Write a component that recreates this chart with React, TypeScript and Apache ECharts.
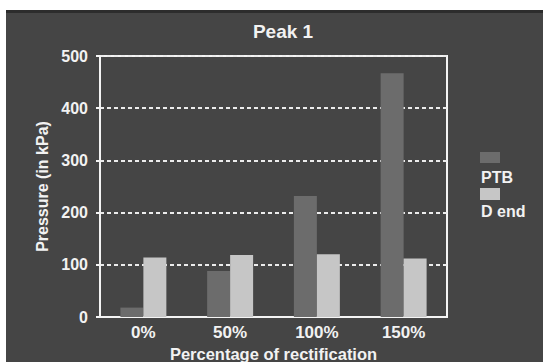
import React, { useEffect, useRef } from "react";
import * as echarts from "echarts";

const categories = ["0%", "50%", "100%", "150%"];
const ptbValues = [18, 88, 232, 467];
const dEndValues = [114, 119, 120, 112];
const seriesNames = ["PTB", "D end"];
const yTicks = { min: 0, max: 500, interval: 100 };

const FONT = "'Liberation Sans', Arial, Helvetica, sans-serif";
const TEXT = "#f2f2f2";
const BG = "#454545";
const PTB_COLOR = "#6c6c6c";
const DEND_COLOR = "#c6c6c6";

export default function App() {
  const ref = useRef<HTMLDivElement>(null);
  useEffect(() => {
    if (!ref.current) return;
    const chart = echarts.init(ref.current, null, { renderer: "svg" });
    chart.setOption({
      animation: false,
      backgroundColor: BG,
      title: {
        text: "Peak 1",
        left: 272,
        top: 7,
        textAlign: "center",
        textStyle: { color: TEXT, fontFamily: FONT, fontWeight: "bold", fontSize: 19 },
      },
      grid: {
        left: 94,
        top: 46,
        right: 96,
        bottom: 45,
        show: true,
        borderColor: "#f4f4f4",
        borderWidth: 2,
        backgroundColor: "transparent",
        outerBoundsMode: "none",
        containLabel: false,
      },
      xAxis: {
        type: "category",
        data: categories,
        axisLine: { lineStyle: { color: "#f4f4f4", width: 2 } },
        axisTick: { show: false },
        axisLabel: { color: TEXT, fontFamily: FONT, fontWeight: "bold", fontSize: 17, margin: 7 },
        name: "Percentage of rectification",
        nameLocation: "middle",
        nameGap: 19,
        nameTextStyle: { color: TEXT, fontFamily: FONT, fontWeight: "bold", fontSize: 16.5 },
      },
      yAxis: {
        type: "value",
        min: yTicks.min,
        max: yTicks.max,
        interval: yTicks.interval,
        axisLine: { show: true, lineStyle: { color: "#f4f4f4", width: 2 } },
        axisTick: { show: true, length: 4, lineStyle: { color: "#f4f4f4", width: 2 } },
        axisLabel: { color: TEXT, fontFamily: FONT, fontWeight: "bold", fontSize: 16, margin: 12 },
        splitLine: { show: true, lineStyle: { color: "#ececec", width: 2, type: [4, 3] } },
        name: "Pressure (in kPa)",
        nameLocation: "middle",
        nameGap: 47,
        nameTextStyle: { color: TEXT, fontFamily: FONT, fontWeight: "bold", fontSize: 16 },
      },
      series: [
        {
          name: seriesNames[0],
          type: "bar",
          data: ptbValues,
          itemStyle: { color: PTB_COLOR },
          barGap: "0%",
          barCategoryGap: "47%",
        },
        {
          name: seriesNames[1],
          type: "bar",
          data: dEndValues,
          itemStyle: { color: DEND_COLOR },
          barGap: "0%",
          barCategoryGap: "47%",
        },
      ],
      graphic: [
        { type: "rect", shape: { x: 0, y: 0, width: 537, height: 3 }, style: { fill: "#2c2c2c" } },
        { type: "rect", shape: { x: 474, y: 142, width: 20, height: 11 }, style: { fill: PTB_COLOR } },
        {
          type: "text",
          x: 475,
          y: 167,
          style: { text: seriesNames[0], fill: TEXT, font: `bold 16px ${FONT}`, textVerticalAlign: "middle" },
        },
        { type: "rect", shape: { x: 474, y: 178, width: 20, height: 12 }, style: { fill: DEND_COLOR } },
        {
          type: "text",
          x: 475,
          y: 201,
          style: { text: seriesNames[1], fill: TEXT, font: `bold 16px ${FONT}`, textVerticalAlign: "middle" },
        },
      ],
    });
    return () => chart.dispose();
  }, []);
  return (
    <div style={{ position: "absolute", left: 0, top: 0, width: 543, height: 362, background: "#ffffff" }}>
      <div ref={ref} style={{ position: "absolute", left: 6, top: 10, width: 537, height: 352 }} />
    </div>
  );
}
